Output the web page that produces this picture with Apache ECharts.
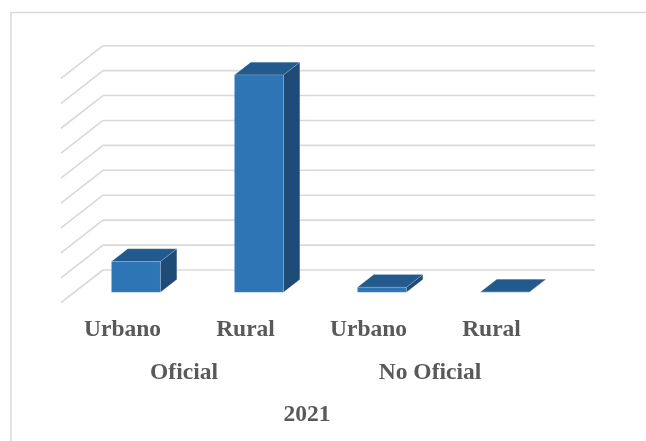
<!DOCTYPE html>
<html>
<head>
<meta charset="utf-8">
<script src="https://cdn.jsdelivr.net/npm/echarts@6/dist/echarts.min.js"></script>
<style>
html,body{margin:0;padding:0;background:#fff;}
#chart{width:646px;height:441px;}
</style>
</head>
<body>
<div id="chart"></div>
<script>
// ---- data ----
const categories = ['Urbano', 'Rural', 'Urbano', 'Rural'];
const groups = ['Oficial', 'No Oficial'];
const years = ['2021'];
const values = [1.23, 8.72, 0.2, 0.01];
const gridTicks = [0, 1, 2, 3, 4, 5, 6, 7, 8, 9];

// ---- 3D look (oblique projection) ----
const DX = 42, DY = -32.7;     // floor depth vector (front edge -> back wall)
const F1 = 0.32, F2 = 0.71;    // bar depth range as fraction of floor depth
const BAR_HALF = 24.5;
const FONT = { fontFamily: 'Liberation Serif', fontWeight: 'bold', fontSize: 23.5, color: '#595959' };

const chart = echarts.init(document.getElementById('chart'), null, { renderer: 'canvas' });

function wallItem(params, api) {
  const cs = params.coordSys;
  const y = api.coord([0, api.value(0)])[1];
  const x0 = cs.x;
  const style = { stroke: '#d9d9d9', lineWidth: 1.6, fill: null };
  return {
    type: 'group',
    children: [
      { type: 'line', shape: { x1: x0, y1: y, x2: x0 + DX, y2: y + DY }, style: style },
      { type: 'line', shape: { x1: x0 + DX, y1: y + DY, x2: x0 + DX + cs.width, y2: y + DY }, style: style }
    ]
  };
}

function barItem(params, api) {
  const i = api.value(0);
  const base = api.coord([i, 0]);
  const top = api.coord([i, api.value(1)]);
  const ox = F1 * DX, oy = F1 * DY;
  const ddx = (F2 - F1) * DX, ddy = (F2 - F1) * DY;
  const xl = base[0] - BAR_HALF + ox, xr = base[0] + BAR_HALF + ox;
  const yb = base[1] + oy, yt = top[1] + oy;
  const edge = { stroke: 'rgba(255,255,255,0.25)', lineWidth: 0.6 };
  return {
    type: 'group',
    children: [
      { type: 'polygon', shape: { points: [[xr, yt], [xr, yb], [xr + ddx, yb + ddy], [xr + ddx, yt + ddy]] },
        style: Object.assign({ fill: '#1e4b77' }, edge) },
      { type: 'polygon', shape: { points: [[xl, yt], [xr, yt], [xr + ddx, yt + ddy], [xl + ddx, yt + ddy]] },
        style: Object.assign({ fill: '#235a8e' }, edge) },
      { type: 'rect', shape: { x: xl, y: yt, width: xr - xl, height: Math.max(yb - yt, 0) },
        style: Object.assign({ fill: '#2e75b6' }, edge) }
    ]
  };
}

const option = {
  backgroundColor: '#ffffff',
  animation: false,
  graphic: [{
    type: 'rect', left: 8.5, top: 10, silent: true,
    shape: { x: 0, y: 0, width: 700, height: 500 },
    style: { fill: null, stroke: '#d9d9d9', lineWidth: 1.5 }
  }],
  grid: { left: 61, top: 78.4, width: 492, height: 224.3 },
  xAxis: [
    { type: 'category', data: categories, boundaryGap: true,
      axisLine: { show: false }, axisTick: { show: false }, splitLine: { show: false },
      axisLabel: Object.assign({ margin: 27, verticalAlign: 'middle', interval: 0 }, FONT) },
    { type: 'category', data: groups, position: 'bottom',
      axisLine: { show: false }, axisTick: { show: false }, splitLine: { show: false },
      axisLabel: Object.assign({ margin: 70, verticalAlign: 'middle', interval: 0 }, FONT) },
    { type: 'category', data: years, position: 'bottom',
      axisLine: { show: false }, axisTick: { show: false }, splitLine: { show: false },
      axisLabel: Object.assign({ margin: 112, verticalAlign: 'middle', interval: 0 }, FONT) }
  ],
  yAxis: { type: 'value', min: 0, max: 9, interval: 1, show: false },
  series: [
    { type: 'custom', name: 'walls', renderItem: wallItem, data: gridTicks.map(v => [v]), z: 1, silent: true },
    { type: 'custom', name: '2021', renderItem: barItem, data: values.map((v, i) => [i, v]), z: 2 }
  ]
};
chart.setOption(option);
</script>
</body>
</html>
